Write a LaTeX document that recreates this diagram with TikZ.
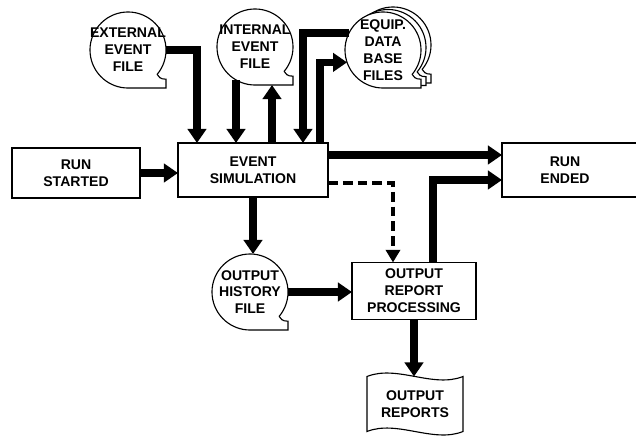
\documentclass[tikz,border=0pt]{standalone}
\usepackage{fontspec}
\setmainfont{Liberation Sans}
\usepackage{tikz}
\usetikzlibrary{arrows.meta, positioning, calc, backgrounds}

\newcommand{\tapeshape}[2][0,0]{%
  \draw[tapeline] ($(#2.-40)+(#1)$) arc[start angle=-40, end angle=270, radius=0.95cm]
    -- ++(0.95cm,0) -- ++(0,0.22cm)
    .. controls +(-0.15cm,0) and +(0.04cm,-0.06cm) .. ($(#2.-40)+(#1)$);}

\begin{document}
\begin{tikzpicture}[x=0.025cm, y=0.025cm,
    every node/.style={font=\bfseries\fontsize{10}{12}\selectfont, align=center, outer sep=0pt},
    box/.style={draw, line width=0.8pt, inner sep=2pt},
    tape/.style={circle, minimum size=1.9cm, inner sep=0pt},
    tapeline/.style={line width=0.8pt, fill=white},
    flow/.style={line width=5.5pt, -{Triangle[length=10pt, width=13pt]}},
    flowdash/.style={line width=2.8pt, dash pattern=on 7pt off 3.5pt,
                     -{Triangle[length=9pt, width=10pt]}}]
    \useasboundingbox (0,0) rectangle (636,435);

    \node[box, minimum width=3.2cm, minimum height=1.25cm] (start) at (76,262) {RUN\\STARTED};
    \node[box, minimum width=3.75cm, minimum height=1.35cm] (sim) at (253,265) {EVENT\\SIMULATION};
    \node[minimum width=3.15cm, minimum height=1.35cm] (ended) at (565,265) {RUN\\ENDED};
    \node[box, minimum width=3.1cm, minimum height=1.425cm] (proc) at (414,144) {OUTPUT\\REPORT\\PROCESSING};
    \node[minimum width=2.4cm, minimum height=1.375cm] (reports) at (415,31) {OUTPUT\\REPORTS};

    \node[tape] (ext) at (128,385) {};
    \node[tape] (int) at (255,388) {};
    \node[tape] (equip) at (383,385) {};
    \node[tape] (hist) at (250,143) {};
    \node (ext-text) at (ext) {EXTERNAL\\EVENT\\FILE};
    \node (int-text) at (int) {INTERNAL\\EVENT\\FILE};
    \node (equip-text) at (equip) {EQUIP.\\DATA\\BASE\\FILES};
    \node (hist-text) at (hist) {OUTPUT\\HISTORY\\FILE};

    \begin{scope}[on background layer]
        \tapeshape{ext}
        \tapeshape{int}
        \tapeshape[10,5]{equip}
        \tapeshape[5,2.5]{equip}
        \tapeshape{equip}
        \tapeshape{hist}
        \draw[line width=0.8pt] ($(ended.north west)+(134,0)$) -| (ended.south west) -- ++(134,0);
        \draw[line width=0.8pt] (reports.north west) .. controls +(30,12) and +(-30,-12) .. (reports.north east)
            -- (reports.south east) .. controls +(-30,-12) and +(30,12) .. (reports.south west) -- cycle;
    \end{scope}

    \coordinate (ext-in) at ($(sim.north west)+(19,0)$);
    \coordinate (int-up) at ($(int.south)+(17,0)$);
    \coordinate (equip-in) at ($(sim.north west)+(125,0)$);
    \coordinate (equip-out) at ($(sim.north west)+(142,0)$);
    \coordinate (ended-in) at ($(sim.north east)+(0,-12)$);
    \coordinate (proc-out) at ($(proc.north west)+(81,0)$);
    \coordinate (ended-in2) at ($(ended.north west)+(0,-37)$);
    \coordinate (sim-dash) at ($(sim.south east)+(0,14)$);
    \coordinate (proc-in) at ($(proc.north west)+(41,0)$);

    \draw[flow] (start.east) -- (start.east -| sim.west);
    \draw[flow] (ext.east) -| (ext-in);
    \draw[flow] (int.240) -- (int.240 |- sim.north);
    \draw[flow] (int-up |- sim.north) -- (int-up);
    \draw[flow] (equip.153) -| (equip-in);
    \draw[flow] (equip-out) |- (equip.199);
    \draw[flow] (ended-in) -- (ended-in -| ended.west);
    \draw[flow] (proc-out) |- (ended-in2);
    \draw[flowdash] (sim-dash) -| (proc-in);
    \draw[flow] (sim.south) -- (sim.south |- hist.north);
    \draw[flow] (hist.east) -- (hist.east -| proc.west);
    \draw[flow] (proc.south) -- (proc.south |- reports.north);
\end{tikzpicture}
\end{document}
